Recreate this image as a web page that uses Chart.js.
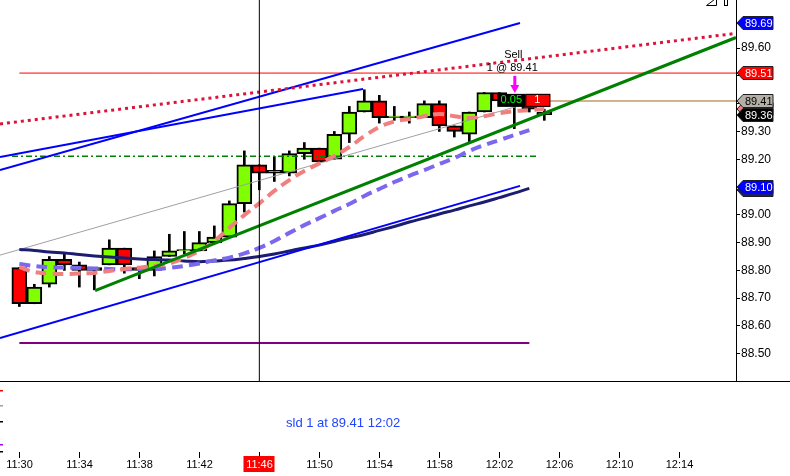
<!DOCTYPE html>
<html>
<head>
<meta charset="utf-8">
<script src="https://cdn.jsdelivr.net/npm/chart.js@4.4.1/dist/chart.umd.min.js"></script>
<style>
  html, body { margin: 0; padding: 0; background: #fff; }
  canvas { display: block; }
</style>
</head>
<body>
<canvas id="chart" width="790" height="476"></canvas>
<script>
// one candle per minute, x value = minutes after 11:30
const candleTimes = ['11:30','11:31','11:32','11:33','11:34','11:35','11:36','11:37','11:38','11:39',
  '11:40','11:41','11:42','11:43','11:44','11:45','11:46','11:47','11:48','11:49','11:50','11:51',
  '11:52','11:53','11:54','11:55','11:56','11:57','11:58','11:59','12:00','12:01','12:02','12:03','12:04','12:05'];
const opens  = [88.81,88.68,88.75,88.84,88.82,88.80,88.82,88.88,88.81,88.80,88.85,88.87,88.87,88.90,88.92,89.04,89.18,89.15,
  89.15,89.22,89.24,89.20,89.29,89.37,89.41,89.35,89.35,89.35,89.40,89.32,89.29,89.37,89.44,89.41,89.43,89.37];
const highs  = [88.81,88.75,88.85,88.86,88.83,88.81,88.91,88.88,88.81,88.87,88.93,88.94,88.94,88.96,89.05,89.23,89.18,89.21,
  89.23,89.26,89.24,89.30,89.39,89.45,89.43,89.39,89.37,89.41,89.41,89.32,89.37,89.44,89.44,89.43,89.43,89.38];
const lows   = [88.67,88.68,88.74,88.80,88.74,88.73,88.82,88.79,88.77,88.78,88.85,88.86,88.87,88.90,88.92,89.01,89.09,89.12,
  89.14,89.20,89.19,89.20,89.26,89.37,89.33,89.34,89.33,89.35,89.30,89.28,89.26,89.37,89.40,89.31,89.37,89.34];
const closes = [88.68,88.74,88.84,88.82,88.80,88.81,88.88,88.82,88.80,88.85,88.87,88.875,88.90,88.92,89.04,89.18,89.15,89.16,
  89.22,89.24,89.19,89.29,89.37,89.41,89.35,89.355,89.355,89.40,89.32,89.30,89.37,89.44,89.41,89.42,89.38,89.36];

// moving averages, one value per candle from 11:30
const maNavy = [88.875,88.872,88.866,88.863,88.857,88.852,88.848,88.845,88.841,88.839,88.837,88.834,88.831,88.834,88.837,
  88.843,88.850,88.859,88.870,88.881,88.891,88.904,88.917,88.929,88.944,88.958,88.974,88.988,89.003,89.017,89.032,89.046,
  89.062,89.078,89.095];
const maSalmon = [88.812,88.794,88.789,88.787,88.789,88.791,88.798,88.805,88.810,88.816,88.825,88.845,88.870,88.906,88.953,
  88.999,89.041,89.086,89.125,89.158,89.185,89.212,89.244,89.283,89.316,89.336,89.345,89.355,89.363,89.355,89.348,89.355,
  89.366,89.373,89.377,89.381];
const maSlate = [88.823,88.816,88.812,88.810,88.809,88.807,88.805,88.804,88.804,88.805,88.809,88.816,88.825,88.836,88.846,
  88.861,88.881,88.906,88.935,88.963,88.988,89.014,89.039,89.068,89.093,89.118,89.140,89.161,89.183,89.204,89.230,89.251,
  89.269,89.287,89.305];

// drawn trend lines: [minute, price] end points
const channelUpperA = [[-1.29, 89.161], [33.38, 89.69]];
const channelUpperB = [[-1.29, 89.208], [22.91, 89.453]];
const channelLower  = [[-1.29, 88.557], [33.38, 89.104]];
const dottedTrend   = [[-1.29, 89.327], [47.78, 89.653]];
const greenTrend    = [[5.05, 88.727], [47.78, 89.638]];
const grayTrend     = [[-1.29, 88.855], [34, 89.403]];
// horizontal levels: [from minute, to minute, price]
const redLevel     = [0, 47.78, 89.51];
const tanLevel     = [35, 47.78, 89.41];
const dashDotLevel = [-0.49, 34.5, 89.211];
const purpleLevel  = [0, 34, 88.539];
const cursorMinute = 16;

const timeTickPos    = [0, 4, 8, 12, 16, 20, 24, 28, 32, 36, 40, 44];
const timeTickLabels = ['11:30','11:34','11:38','11:42','11:46','11:50','11:54','11:58','12:02','12:06','12:10','12:14'];
const priceTicks = [88.5, 88.6, 88.7, 88.8, 88.9, 89.0, 89.1, 89.2, 89.3, 89.4, 89.5, 89.6];

// right-axis price tags (drawn in this order)
const tagPrices = [89.09, 89.10, 89.38, 89.69, 89.51, 89.41, 89.36];
const tagFills  = ['#1c1c70', '#0000ff', '#f08080', '#0000ff', '#ff0000', '#b4b0a8', '#000000'];
const tagInk    = ['#ffffff', '#ffffff', '#ffffff', '#ffffff', '#ffffff', '#000000', '#ffffff'];

const tradePrice = 89.41;
const tradeMinute = 33;
const tradeNote = 'sld 1 at 89.41 12:02';

const FONT = 'Liberation Sans, Arial, sans-serif';

function pts(list) {
  return list.map(p => ({x: p[0], y: p[1]}));
}
function level(l) {
  return [{x: l[0], y: l[2]}, {x: l[1], y: l[2]}];
}
function lineSet(data, color, width, dash, order, tension) {
  return {
    type: 'line', data, borderColor: color, borderWidth: width, borderDash: dash || [],
    pointRadius: 0, fill: false, tension: tension || 0, order, borderCapStyle: 'butt'
  };
}

const bodies = candleTimes.map((t, k) => ({x: k, y: [opens[k], closes[k]]}));
const wicks = candleTimes.map((t, k) => ({x: k, y: [lows[k], highs[k]]}));
const bodyColors = candleTimes.map((t, k) => closes[k] >= opens[k] ? '#80ff00' : '#ff0000');
const series = (arr) => arr.map((v, k) => ({x: k, y: v}));

const decor = {
  id: 'decor',
  afterDraw(chart) {
    const ctx = chart.ctx;
    const {x, y} = chart.scales;
    const area = chart.chartArea;
    ctx.save();

    // panel separator
    ctx.strokeStyle = '#000';
    ctx.lineWidth = 1;
    ctx.beginPath();
    ctx.moveTo(0, Math.round(area.bottom) + 0.5);
    ctx.lineTo(chart.width, Math.round(area.bottom) + 0.5);
    ctx.stroke();

    // small marks on the left edge of the lower panel
    [['#ff0000', 390], ['#a0a0a0', 405], ['#000', 421], ['#a000ff', 444], ['#000', 451]].forEach(m => {
      ctx.fillStyle = m[0];
      ctx.fillRect(0, m[1], 3, 1.5);
    });

    // time axis
    ctx.font = '11px ' + FONT;
    ctx.textAlign = 'center';
    ctx.textBaseline = 'middle';
    timeTickPos.forEach((t, k) => {
      const px = Math.round(x.getPixelForValue(t)) + 0.5;
      ctx.strokeStyle = '#000';
      ctx.beginPath();
      ctx.moveTo(px, 452);
      ctx.lineTo(px, 458);
      ctx.stroke();
      if (t === cursorMinute) {
        ctx.fillStyle = '#ff0000';
        ctx.fillRect(px - 16, 456, 31, 16);
        ctx.fillStyle = '#fff';
      } else {
        ctx.fillStyle = '#000';
      }
      ctx.fillText(timeTickLabels[k], px, 464.5);
    });

    // trade note in lower panel
    ctx.font = '13px ' + FONT;
    ctx.textAlign = 'left';
    ctx.fillStyle = '#2244ff';
    ctx.fillText(tradeNote, 286, 423);

    // sell marker
    const tx = x.getPixelForValue(tradeMinute);
    const ty = y.getPixelForValue(tradePrice);
    ctx.font = '11px ' + FONT;
    ctx.textAlign = 'center';
    ctx.fillStyle = '#000';
    ctx.fillText('Sell', tx - 1, ty - 46);
    ctx.fillText('1 @ 89.41', tx - 2, ty - 33);
    ctx.fillStyle = '#ff00ff';
    ctx.fillRect(tx - 1, ty - 25, 3, 10);
    ctx.beginPath();
    ctx.moveTo(tx - 4, ty - 16);
    ctx.lineTo(tx + 5, ty - 16);
    ctx.lineTo(tx + 0.5, ty - 8);
    ctx.closePath();
    ctx.fill();

    // position boxes
    const bx = x.getPixelForValue(tradeMinute - 1) - 2;
    ctx.fillStyle = '#000';
    ctx.fillRect(bx, ty - 7, 28, 13);
    ctx.fillStyle = '#00ff00';
    ctx.fillText('0.05', bx + 14, ty - 0.5);
    ctx.fillStyle = '#ff0000';
    ctx.fillRect(bx + 28, ty - 7, 25, 13);
    ctx.strokeStyle = '#000';
    ctx.strokeRect(bx + 28.5, ty - 6.5, 24, 12);
    ctx.fillStyle = '#fff';
    ctx.fillText('1', bx + 40, ty - 0.5);

    // price tags on the right axis
    ctx.font = '11px ' + FONT;
    ctx.textAlign = 'left';
    tagPrices.forEach((p, k) => {
      const py = Math.round(y.getPixelForValue(p));
      const left = area.right + 1, right = 773, h = 13;
      ctx.beginPath();
      ctx.moveTo(left, py);
      ctx.lineTo(left + 6, py - h / 2);
      ctx.lineTo(right, py - h / 2);
      ctx.lineTo(right, py + h / 2);
      ctx.lineTo(left + 6, py + h / 2);
      ctx.closePath();
      ctx.fillStyle = tagFills[k];
      ctx.fill();
      ctx.strokeStyle = '#202020';
      ctx.lineWidth = 1;
      ctx.stroke();
      ctx.fillStyle = tagInk[k];
      ctx.fillText(p.toFixed(2), left + 8, py + 0.5);
    });

    // little tool icon at the top right
    ctx.strokeStyle = '#000';
    ctx.beginPath();
    ctx.moveTo(716.5, -2);
    ctx.lineTo(706.5, 5.5);
    ctx.lineTo(716.5, 5.5);
    ctx.closePath();
    ctx.stroke();
    ctx.strokeRect(724.5, -2, 3, 7.5);

    ctx.restore();
  }
};

new Chart(document.getElementById('chart').getContext('2d'), {
  type: 'bar',
  data: {
    datasets: [
      {
        type: 'bar', data: wicks, backgroundColor: '#000', borderWidth: 0,
        barThickness: 2, grouped: false, order: 30
      },
      {
        type: 'bar', data: bodies, backgroundColor: bodyColors, borderColor: '#000',
        borderWidth: 2, borderSkipped: false, barThickness: 15, grouped: false, order: 29
      },
      lineSet(level(purpleLevel), '#800080', 2, null, 12),
      lineSet(level(redLevel), '#ff0000', 1, null, 12),
      lineSet(level(tanLevel), '#d2b48c', 2, null, 12),
      lineSet(level(dashDotLevel), '#008000', 1.5, [6, 3, 2, 3], 12),
      lineSet(pts(grayTrend), '#a0a0a0', 1, null, 11),
      lineSet(series(maNavy), '#1c1c70', 3, null, 10, 0.4),
      lineSet(series(maSlate), '#7b68ee', 4, [11, 6], 9, 0.4),
      lineSet(series(maSalmon), '#f08080', 4, [11, 6], 8, 0.4),
      lineSet(pts(channelLower), '#0000ff', 2, null, 7),
      lineSet(pts(channelUpperA), '#0000ff', 2, null, 7),
      lineSet(pts(channelUpperB), '#0000ff', 2, null, 7),
      lineSet(pts(dottedTrend), '#dc143c', 3, [3, 4], 6),
      lineSet(pts(greenTrend), '#008000', 3, null, 5),
      lineSet([{x: cursorMinute, y: 88.402}, {x: cursorMinute, y: 89.773}], '#000', 1, null, 1)
    ]
  },
  options: {
    responsive: false,
    animation: false,
    events: [],
    layout: {padding: {left: 0, top: 0, right: 0, bottom: 95}},
    plugins: {legend: {display: false}, tooltip: {enabled: false}},
    scales: {
      x: {
        type: 'linear', min: -1.29, max: 47.78, display: false, offset: false,
        grid: {offset: false}
      },
      y: {
        position: 'right', min: 88.402, max: 89.773,
        afterBuildTicks: (s) => { s.ticks = priceTicks.map(v => ({value: v})); },
        afterFit: (s) => { s.width = 54; s.paddingTop = 0; s.paddingBottom = 0; },
        grid: {drawOnChartArea: false, drawTicks: true, tickLength: 4, color: '#000'},
        border: {display: true, color: '#000', width: 1},
        ticks: {
          padding: 1, color: '#000', font: {family: FONT, size: 12},
          callback: (v) => Number(v).toFixed(2)
        }
      }
    }
  },
  plugins: [decor]
});
</script>
</body>
</html>
